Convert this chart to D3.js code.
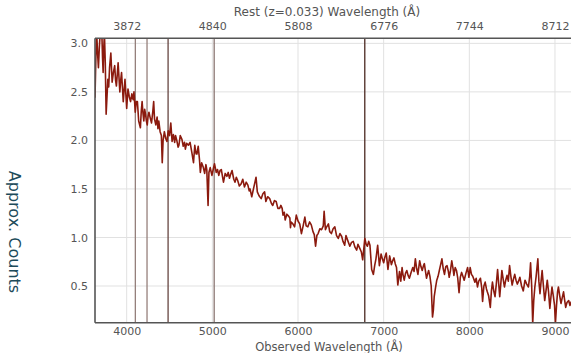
<!DOCTYPE html>
<html>
<head>
<meta charset="utf-8">
<script src="https://cdn.jsdelivr.net/npm/d3@7"></script>
<style>
  body { margin: 0; background: #fff; }
  #specContainer { width: 571px; height: 353px; }
</style>
</head>
<body>
<div id="specContainer"></div>
<script>
// observed wavelength (A) and approx. counts
const wavelengths = [
  3630,3640,3650,3660,3670,3680,3690,3700,3710,3718,3725,3732,3740,3750,3760,3770,3780,3790,3800,3815,
  3830,3845,3860,3870,3880,3890,3900,3910,3920,3930,3940,3950,3960,3970,3980,3990,4000,4015,4030,4045,
  4060,4075,4085,4100,4112,4125,4140,4160,4170,4180,4190,4200,4210,4220,4230,4240,4250,4260,4275,4290,
  4305,4315,4325,4340,4355,4365,4375,4390,4405,4415,4425,4440,4455,4470,4485,4500,4515,4530,4545,4560,
  4570,4585,4600,4610,4625,4645,4660,4675,4685,4700,4720,4740,4760,
  4780,4795,4810,4820,4835,4850,4860,4875,4895,4910,4925,4935,4950,4960,4975,4995,5010,5025,5045,5060,
  5075,5090,5105,5120,5130,5150,5170,5185,5200,5210,5230,5250,5265,5280,5295,5315,5335,5355,5375,5395,
  5415,5430,5440,5460,5480,5500,5510,5525,5545,5570,5590,5610,5625,5645,5670,5690,5705,5725,5745,5765,
  5785,5800,5815,5825,5840,5850,5870,5890,5905,5912,5920,5940,5960,5980,6000,6020,6040,6060,6080,6095,
  6115,6135,6155,6175,6190,6205,6220,6235,6255,6275,6295,6305,6320,6335,6355,6370,6390,6410,6430,6450,
  6470,6490,6510,6525,6545,6560,6580,6605,6625,6645,6665,6685,6700,6720,6740,6755,6770,6780,6795,6810,
  6825,6840,6860,6880,6895,6910,6930,6950,6970,6985,7000,7015,7030,7050,7070,7090,7105,7120,7135,7150,
  7165,7185,7200,7215,7225,7240,7255,7270,7285,7300,7320,7340,7355,7370,7385,7400,7420,7435,7450,7465,
  7475,7490,7500,7515,7525,7540,7555,7570,7580,7590,7605,7620,7635,7650,7665,7680,7695,7710,7725,7740,
  7755,7765,7780,7795,7810,7820,7835,7850,7865,7880,7895,7910,7925,7940,7960,7980,7995,8010,8025,8040,
  8065,8080,8095,8110,8130,8145,8155,8170,8185,8200,8210,8225,8245,8258,8270,8285,8300,8315,8330,8345,
  8355,8370,8380,8395,8410,8425,8440,8455,8470,8485,8500,8515,8530,8545,8560,8575,8590,8610,8630,8650,
  8670,8690,8705,8715,8728,8740,8752,8765,8780,8800,8812,8825,8838,8850,8865,8880,8895,8910,8925,8940,
  8952,8965,8980,8995,9005,9018,9030,9040,9055,9070,9085,9100,9112,9125,9140,9160,9175,9190
];
const counts = [
  2.44,2.85,3.10,2.90,2.75,2.95,3.10,3.08,3.10,2.85,2.70,2.95,3.10,2.80,2.27,2.45,2.63,2.55,2.75,2.90,
  2.60,2.70,2.77,2.62,2.56,2.68,2.80,2.65,2.50,2.62,2.70,2.55,2.40,2.52,2.63,2.48,2.33,2.53,2.45,2.40,
  2.48,2.42,2.50,2.29,2.40,2.40,2.20,2.13,2.30,2.40,2.28,2.20,2.32,2.27,2.20,2.16,2.25,2.29,2.23,2.18,
  2.30,2.40,2.22,2.16,2.24,2.12,2.20,2.09,2.05,1.77,2.00,2.09,2.02,1.99,2.10,2.05,2.18,1.99,2.06,1.98,
  2.05,2.00,1.93,1.95,2.05,2.01,1.94,1.98,1.91,1.97,1.95,1.98,1.88,
  1.77,1.95,1.86,1.86,1.94,1.80,1.67,1.77,1.72,1.66,1.75,1.70,1.33,1.67,1.72,1.64,1.70,1.76,1.67,1.70,
  1.64,1.69,1.70,1.62,1.57,1.66,1.63,1.67,1.61,1.64,1.69,1.60,1.57,1.62,1.59,1.53,1.55,1.60,1.52,1.57,
  1.54,1.48,1.50,1.42,1.50,1.58,1.62,1.47,1.43,1.40,1.45,1.47,1.37,1.42,1.40,1.35,1.33,1.38,1.37,1.30,
  1.30,1.33,1.30,1.23,1.26,1.18,1.24,1.22,1.20,1.10,1.16,1.14,1.11,1.23,1.17,1.14,1.04,1.12,1.21,1.12,
  1.11,1.16,1.13,1.06,1.03,0.91,1.02,1.04,1.09,1.08,1.12,1.27,1.08,1.11,1.14,1.06,1.04,1.09,1.11,1.02,
  0.99,1.04,1.01,0.96,0.92,1.02,0.97,0.91,0.95,0.96,0.90,0.87,0.93,0.89,0.85,0.77,0.90,0.99,0.93,0.91,
  0.96,0.92,0.67,0.62,0.71,0.78,0.92,0.71,0.83,0.78,0.74,0.80,0.84,0.67,0.81,0.72,0.76,0.79,0.73,0.69,
  0.51,0.65,0.55,0.69,0.62,0.56,0.63,0.66,0.61,0.58,0.64,0.69,0.65,0.78,0.68,0.62,0.76,0.70,0.66,0.71,
  0.73,0.64,0.58,0.63,0.66,0.60,0.50,0.18,0.25,0.39,0.48,0.56,0.60,0.66,0.72,0.78,0.68,0.62,0.70,0.71,
  0.65,0.59,0.66,0.76,0.68,0.61,0.69,0.66,0.58,0.43,0.59,0.64,0.60,0.56,0.63,0.69,0.59,0.69,0.62,0.60,
  0.54,0.58,0.49,0.55,0.58,0.48,0.34,0.50,0.54,0.47,0.44,0.40,0.28,0.45,0.54,0.45,0.39,0.52,0.67,0.50,
  0.39,0.55,0.66,0.57,0.49,0.56,0.61,0.55,0.71,0.60,0.51,0.57,0.62,0.56,0.52,0.55,0.59,0.50,0.45,0.56,
  0.52,0.49,0.60,0.74,0.50,0.11,0.35,0.49,0.60,0.78,0.55,0.42,0.55,0.66,0.50,0.35,0.45,0.56,0.44,0.27,
  0.38,0.49,0.40,0.30,0.11,0.30,0.44,0.49,0.40,0.32,0.38,0.44,0.36,0.28,0.33,0.35,0.30,0.34
];

// tick values
const xTicks = [4000, 5000, 6000, 7000, 8000, 9000];
const yTicks = [0.5, 1.0, 1.5, 2.0, 2.5, 3.0];
const redshift = 0.033;

// marked lines (rest wavelength) : He, Hd, Hg, Hb, Ha
const lineRest = [3970, 4102, 4340, 4861, 6563];
const lineColors = ['#957f7b', '#957f7b', '#664540', '#8a7571', '#4a2820'];

const width = 571;
const height = 353;
const margin = { top: 38.3, right: 0, bottom: 30.3, left: 95 };

const svg = d3.select('#specContainer')
  .append('svg')
  .attr('width', width)
  .attr('height', height)
  .style('font-family', '"DejaVu Sans", Verdana, sans-serif');

const x = d3.scaleLinear()
  .domain([3630, 9187])
  .range([margin.left, width - margin.right]);

const y = d3.scaleLinear()
  .domain([0.122, 3.052])
  .range([height - margin.bottom, margin.top]);

// clip for the plot area
svg.append('clipPath')
  .attr('id', 'plotClip')
  .append('rect')
  .attr('x', margin.left)
  .attr('y', margin.top)
  .attr('width', width - margin.left - margin.right)
  .attr('height', height - margin.top - margin.bottom);

// grid
svg.append('g')
  .selectAll('line')
  .data(xTicks)
  .enter()
  .append('line')
  .attr('x1', d => x(d)).attr('x2', d => x(d))
  .attr('y1', margin.top).attr('y2', height - margin.bottom)
  .attr('stroke', '#e1e1e1');

svg.append('g')
  .selectAll('line')
  .data(yTicks)
  .enter()
  .append('line')
  .attr('x1', margin.left).attr('x2', width)
  .attr('y1', d => y(d)).attr('y2', d => y(d))
  .attr('stroke', '#e1e1e1');

// spectral lines, shifted to the observed frame
svg.append('g')
  .selectAll('line')
  .data(lineRest)
  .enter()
  .append('line')
  .attr('x1', d => x(d * (1 + redshift))).attr('x2', d => x(d * (1 + redshift)))
  .attr('y1', margin.top).attr('y2', height - margin.bottom)
  .attr('stroke', (d, i) => lineColors[i])
  .attr('stroke-width', 1.3);

// spectrum
const line = d3.line()
  .x((d, i) => x(wavelengths[i]))
  .y(d => y(d));

svg.append('path')
  .datum(counts)
  .attr('clip-path', 'url(#plotClip)')
  .attr('fill', 'none')
  .attr('stroke', '#8b1a0e')
  .attr('stroke-width', 1.6)
  .attr('stroke-linejoin', 'round')
  .attr('d', line);

// frame: left, top, bottom
const frame = svg.append('g').attr('stroke', '#555').attr('stroke-width', 1.6);
frame.append('line').attr('x1', margin.left).attr('x2', margin.left)
  .attr('y1', margin.top).attr('y2', height - margin.bottom);
frame.append('line').attr('x1', margin.left).attr('x2', width)
  .attr('y1', margin.top).attr('y2', margin.top);
frame.append('line').attr('x1', margin.left).attr('x2', width)
  .attr('y1', height - margin.bottom).attr('y2', height - margin.bottom);

// bottom axis
const xAxis = svg.append('g')
  .attr('transform', 'translate(0,' + (height - margin.bottom) + ')')
  .call(d3.axisBottom(x).tickValues(xTicks).tickSize(0).tickPadding(5).tickFormat(d3.format('d')));
xAxis.select('.domain').remove();

// top axis, rest wavelength labels at the same positions
const xTop = svg.append('g')
  .attr('transform', 'translate(0,' + margin.top + ')')
  .call(d3.axisTop(x).tickValues(xTicks).tickSize(0).tickPadding(8)
    .tickFormat(d => Math.round(d / (1 + redshift))));
xTop.select('.domain').remove();

// left axis
const yAxis = svg.append('g')
  .attr('transform', 'translate(' + margin.left + ',0)')
  .call(d3.axisLeft(y).tickValues(yTicks).tickSize(0).tickPadding(7).tickFormat(d3.format('.1f')));
yAxis.select('.domain').remove();

svg.selectAll('.tick text')
  .attr('fill', '#555')
  .style('font-size', '11px')
  .style('font-family', '"DejaVu Sans", Verdana, sans-serif');

// axis titles
svg.append('text')
  .attr('x', 329)
  .attr('y', 351)
  .attr('text-anchor', 'middle')
  .attr('fill', '#555')
  .style('font-size', '11.5px')
  .text('Observed Wavelength (Å)');

svg.append('text')
  .attr('x', 327)
  .attr('y', 16)
  .attr('text-anchor', 'middle')
  .attr('fill', '#555')
  .style('font-size', '12px')
  .text('Rest (z=0.033) Wavelength (Å)');

svg.append('text')
  .attr('transform', 'translate(9,232) rotate(90)')
  .attr('text-anchor', 'middle')
  .attr('fill', '#1d4b5a')
  .style('font-size', '16px')
  .text('Approx. Counts');
</script>
</body>
</html>
